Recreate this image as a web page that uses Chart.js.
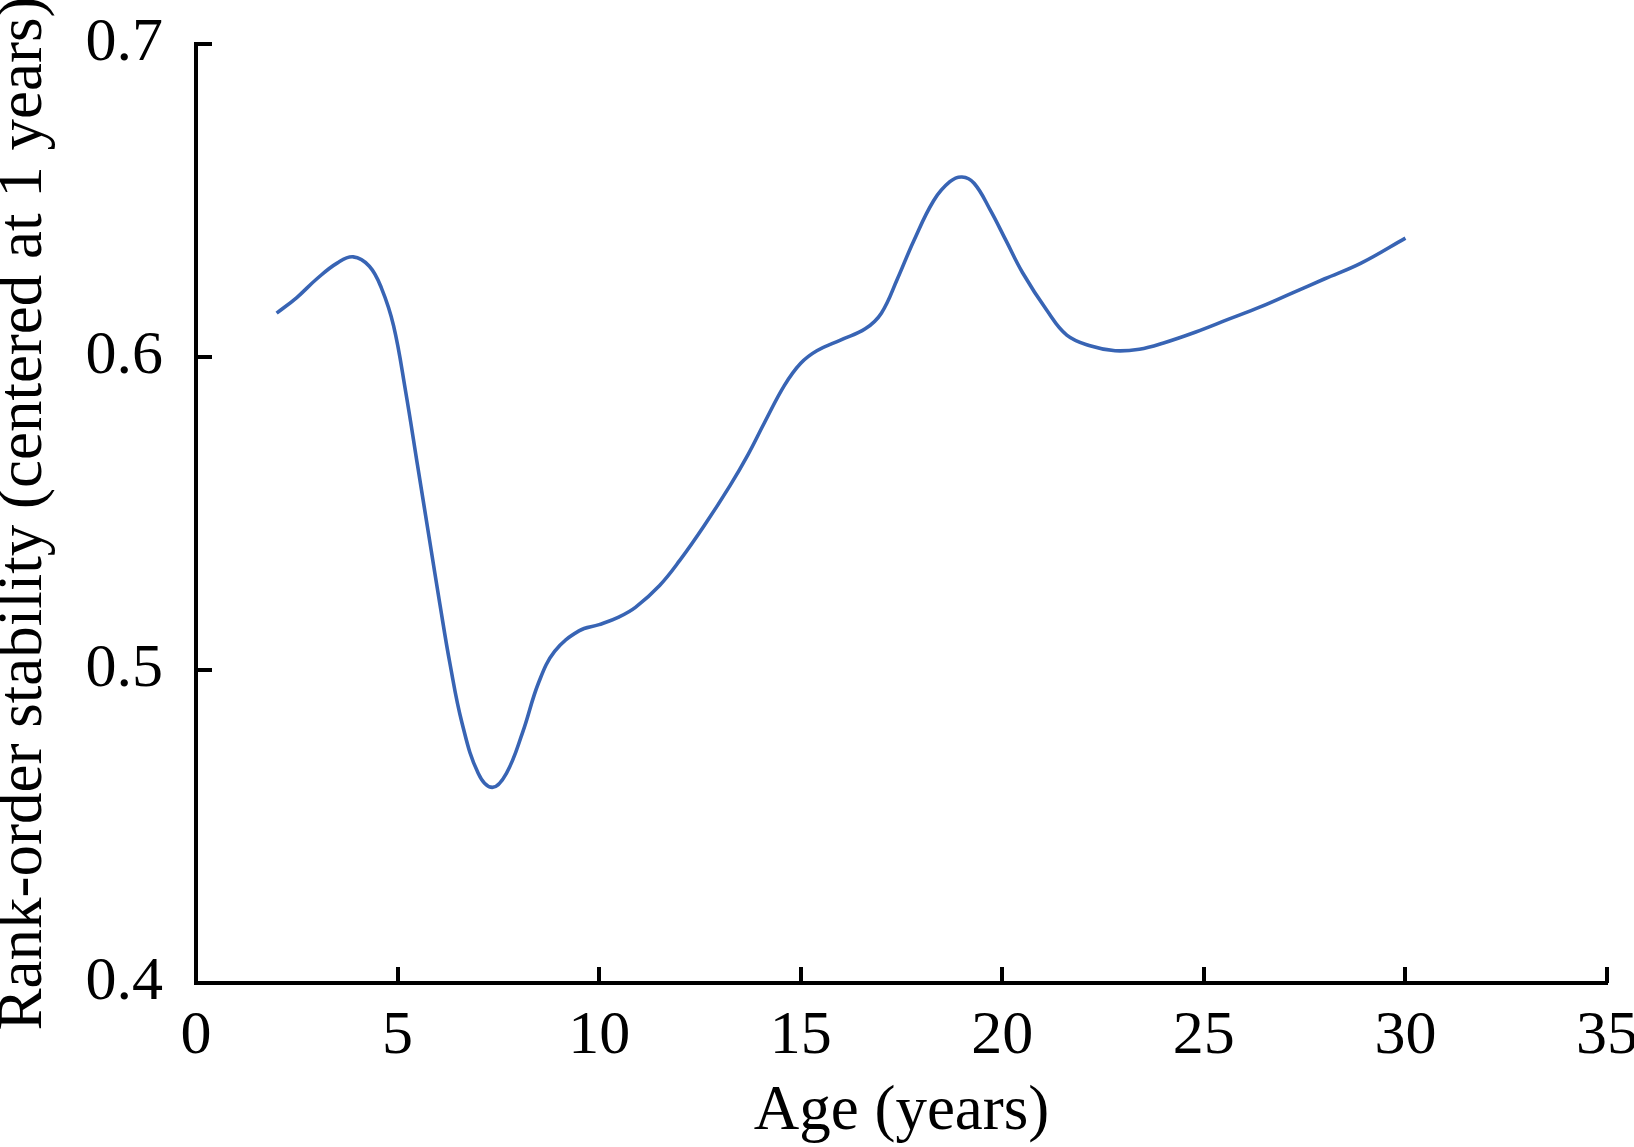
<!DOCTYPE html>
<html>
<head>
<meta charset="utf-8">
<script src="https://cdn.jsdelivr.net/npm/chart.js@4"></script>
<style>
  html, body { margin: 0; padding: 0; background: #fff; }
  #wrap { width: 1634px; height: 1147px; }
</style>
</head>
<body>
<div id="wrap"><canvas id="stability_graph" width="1634" height="1147"></canvas></div>
<script>
// values
const ages = [2.0, 2.5, 3.0, 3.5, 3.9, 4.3, 4.6, 4.9, 5.2, 5.5, 5.8, 6.05, 6.3, 6.6, 7.0, 7.35, 7.7, 8.1, 8.5, 8.9,
  9.5, 10.0, 10.5, 10.9, 11.5, 12.0, 12.6, 13.25, 13.7, 14.1, 14.6, 15.0, 15.4, 16.0, 16.6, 17.0, 17.4, 17.8,
  18.3, 18.7, 19.0, 19.3, 19.7, 20.1, 20.5, 21.1, 21.6, 22.2, 22.8, 23.4, 24.0, 24.8, 25.6, 26.4, 27.2, 28.0, 28.9, 30.0];
const stability = [0.614, 0.619, 0.625, 0.630, 0.632, 0.629, 0.622, 0.610, 0.589, 0.565, 0.541, 0.521, 0.502, 0.483, 0.467, 0.4625, 0.467, 0.480, 0.496, 0.506,
  0.5125, 0.5145, 0.517, 0.520, 0.527, 0.535, 0.546, 0.559, 0.569, 0.579, 0.591, 0.598, 0.602, 0.6055, 0.609, 0.614, 0.625, 0.637,
  0.650, 0.656, 0.6575, 0.6555, 0.647, 0.637, 0.627, 0.615, 0.607, 0.6035, 0.602, 0.6025, 0.6045, 0.608, 0.612, 0.616, 0.6205, 0.625, 0.630, 0.638];
const xTicks = [0, 5, 10, 15, 20, 25, 30, 35];
const yTicks = [0.4, 0.5, 0.6, 0.7];

const ctx = document.getElementById("stability_graph").getContext("2d");
const serif = "'Liberation Serif', 'Times New Roman', serif";

// Chart.js has no inward ticks, so draw them from the scales
const innerTicks = {
  id: "innerTicks",
  afterDraw(chart) {
    const c = chart.ctx;
    const xs = chart.scales.x, ys = chart.scales.y;
    const area = chart.chartArea;
    c.save();
    c.strokeStyle = "#000";
    c.lineWidth = 4;
    xTicks.forEach(v => {
      const px = Math.round(xs.getPixelForValue(v));
      c.beginPath();
      c.moveTo(px, area.bottom);
      c.lineTo(px, area.bottom - 16);
      c.stroke();
    });
    yTicks.forEach(v => {
      const py = Math.round(ys.getPixelForValue(v));
      c.beginPath();
      c.moveTo(area.left, py);
      c.lineTo(area.left + 16, py);
      c.stroke();
    });
    c.restore();
  }
};

// drop the automatic label padding so the plot box sits where the figure has it
function noPad(s) {
  s.paddingTop = 0; s.paddingBottom = 0; s.paddingLeft = 0; s.paddingRight = 0;
}

const points = ages.map((a, i) => ({x: a, y: stability[i]}));

new Chart(ctx, {
  type: "line",
  data: {
    datasets: [{
      data: points,
      borderColor: "#3864b4",
      borderWidth: 3.6,
      pointRadius: 0,
      fill: false,
      tension: 0.4
    }]
  },
  options: {
    responsive: false,
    animation: false,
    layout: { padding: { top: 44, right: 27, left: 0, bottom: 0 } },
    plugins: { legend: { display: false }, tooltip: { enabled: false } },
    scales: {
      x: {
        type: "linear",
        min: 0,
        max: 35,
        afterBuildTicks: s => { s.ticks = xTicks.map(v => ({value: v})); },
        afterFit: s => { s.height = 164; noPad(s); },
        grid: { display: true, drawOnChartArea: false, drawTicks: false },
        border: { display: true, color: "#000", width: 4 },
        ticks: {
          color: "#000",
          padding: 17,
          maxRotation: 0,
          autoSkip: false,
          font: { family: serif, size: 62 }
        },
        title: {
          display: true,
          text: "Age (years)",
          color: "#000",
          font: { family: serif, size: 63, lineHeight: 1 },
          padding: { top: 0, bottom: 3 }
        }
      },
      y: {
        min: 0.4,
        max: 0.7,
        afterBuildTicks: s => { s.ticks = yTicks.map(v => ({value: v})); },
        afterFit: s => { s.width = 196; noPad(s); },
        grid: { display: true, drawOnChartArea: false, drawTicks: false },
        border: { display: true, color: "#000", width: 4 },
        ticks: {
          color: "#000",
          padding: 33,
          callback: v => v.toFixed(1),
          font: { family: serif, size: 62 }
        },
        title: {
          display: true,
          text: "Rank-order stability (centered at 1 years)",
          color: "#000",
          font: { family: serif, size: 63, lineHeight: 1 },
          padding: { top: -7, bottom: 0 }
        }
      }
    }
  },
  plugins: [innerTicks]
});
</script>
</body>
</html>
